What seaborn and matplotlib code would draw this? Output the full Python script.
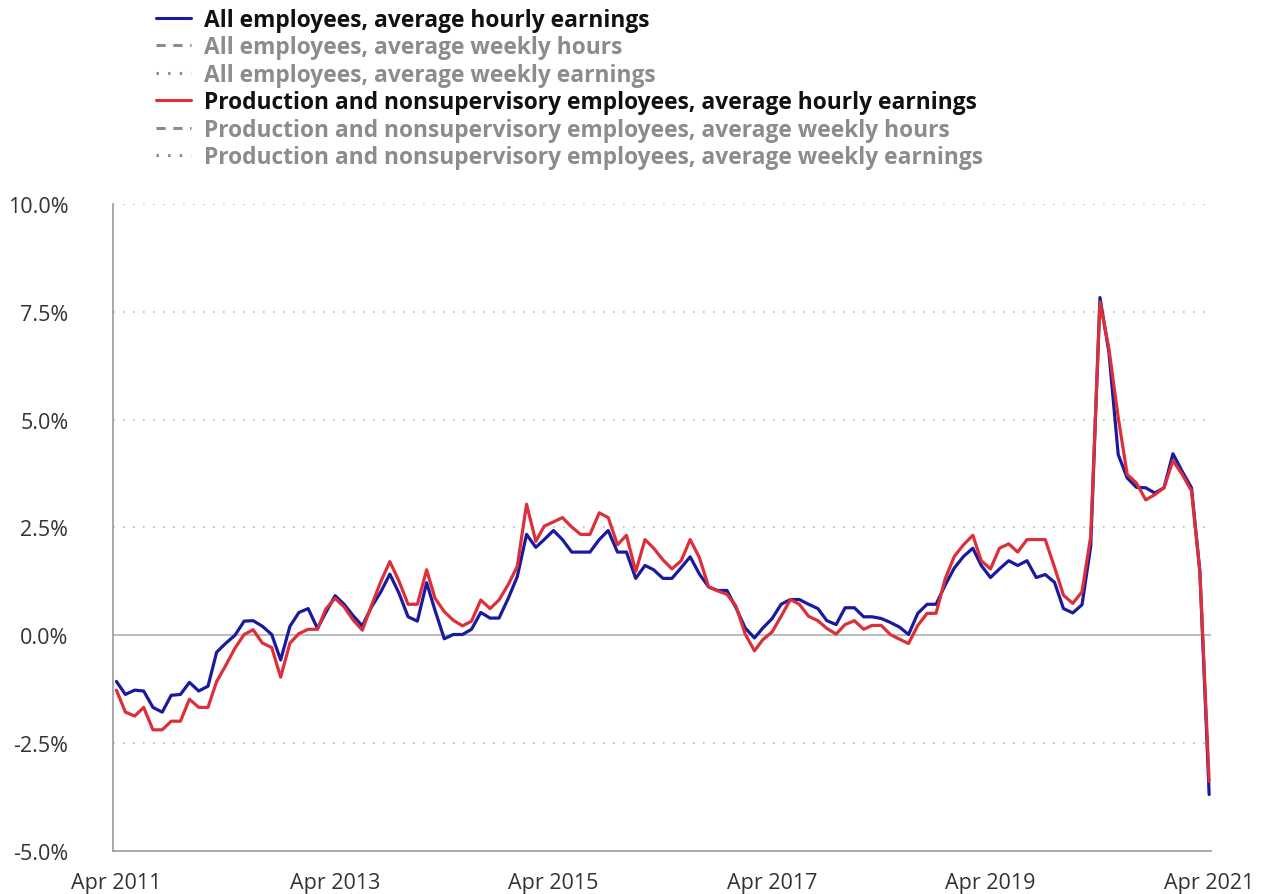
import numpy as np
import pandas as pd
import matplotlib
matplotlib.use("Agg")
import matplotlib.pyplot as plt
import matplotlib.dates as mdates
from matplotlib.lines import Line2D
from matplotlib.ticker import FuncFormatter
import seaborn as sns

# =========================
# DATA (12-month % change, monthly Apr 2011 - Apr 2021)
# =========================

START = "2011-04-01"

all_hourly = [
    -1.07, -1.37, -1.27, -1.29, -1.67, -1.78, -1.39, -1.37, -1.09, -1.29,
    -1.18, -0.39, -0.18, 0.00, 0.33, 0.34, 0.21, 0.02, -0.57, 0.21,
    0.53, 0.62, 0.16, 0.53, 0.92, 0.72, 0.45, 0.22, 0.66, 1.01,
    1.42, 0.97, 0.43, 0.33, 1.22, 0.58, -0.08, 0.02, 0.02, 0.14,
    0.53, 0.40, 0.40, 0.86, 1.36, 2.34, 2.04, 2.22, 2.43, 2.22,
    1.93, 1.93, 1.93, 2.22, 2.43, 1.93, 1.93, 1.32, 1.62, 1.52,
    1.32, 1.32, 1.57, 1.82, 1.42, 1.12, 1.04, 1.04, 0.64, 0.17,
    -0.06, 0.17, 0.39, 0.72, 0.83, 0.83, 0.72, 0.62, 0.34, 0.25,
    0.64, 0.64, 0.43, 0.43, 0.39, 0.30, 0.19, 0.02, 0.51, 0.72,
    0.72, 1.17, 1.56, 1.83, 2.02, 1.62, 1.34, 1.54, 1.73, 1.62,
    1.73, 1.34, 1.41, 1.23, 0.62, 0.52, 0.71, 2.06, 7.83, 6.56,
    4.19, 3.65, 3.43, 3.42, 3.30, 3.42, 4.21, 3.80, 3.42, 1.48,
    -3.69,
]

prod_hourly = [
    -1.27, -1.78, -1.87, -1.67, -2.19, -2.19, -1.99, -1.99, -1.48, -1.67,
    -1.67, -1.07, -0.69, -0.30, 0.02, 0.13, -0.18, -0.28, -0.97, -0.18,
    0.04, 0.14, 0.14, 0.61, 0.86, 0.66, 0.35, 0.12, 0.70, 1.25,
    1.71, 1.25, 0.72, 0.72, 1.52, 0.86, 0.55, 0.35, 0.22, 0.33,
    0.82, 0.62, 0.82, 1.18, 1.60, 3.04, 2.18, 2.53, 2.63, 2.73,
    2.51, 2.34, 2.34, 2.84, 2.73, 2.10, 2.32, 1.48, 2.22, 2.02,
    1.75, 1.54, 1.73, 2.22, 1.80, 1.12, 1.03, 0.95, 0.68, 0.03,
    -0.36, -0.10, 0.08, 0.44, 0.83, 0.72, 0.44, 0.34, 0.16, 0.03,
    0.25, 0.34, 0.14, 0.23, 0.23, 0.02, -0.09, -0.19, 0.23, 0.51,
    0.51, 1.32, 1.83, 2.10, 2.32, 1.73, 1.54, 2.02, 2.12, 1.93,
    2.22, 2.22, 2.22, 1.58, 0.93, 0.74, 1.01, 2.29, 7.73, 6.64,
    5.05, 3.73, 3.53, 3.14, 3.26, 3.42, 4.05, 3.73, 3.35, 1.48,
    -3.38,
]

legend_labels = [
    "All employees, average hourly earnings",
    "All employees, average weekly hours",
    "All employees, average weekly earnings",
    "Production and nonsupervisory employees, average hourly earnings",
    "Production and nonsupervisory employees, average weekly hours",
    "Production and nonsupervisory employees, average weekly earnings",
]
legend_active = [True, False, False, True, False, False]

y_ticks = [-5.0, -2.5, 0.0, 2.5, 5.0, 7.5, 10.0]
x_tick_years = [2011, 2013, 2015, 2017, 2019, 2021]

BLUE = "#1a1a9e"
RED = "#dc2f3a"
INACTIVE = "#8c8c8c"

# =========================
# PLOT
# =========================

dates = pd.date_range(START, periods=len(all_hourly), freq="MS")
df = pd.DataFrame({
    "date": np.concatenate([dates, dates]),
    "value": all_hourly + prod_hourly,
    "series": [legend_labels[0]] * len(dates) + [legend_labels[3]] * len(dates),
})

sns.set_style("white")
plt.rcParams["font.family"] = ["Open Sans", "DejaVu Sans"]

fig = plt.figure(figsize=(12.68, 8.95), dpi=100)
ax = fig.add_axes([0.089, 0.048, 0.866, 0.723])

sns.lineplot(
    data=df, x="date", y="value", hue="series",
    palette={legend_labels[0]: BLUE, legend_labels[3]: RED},
    linewidth=2.3, ax=ax, legend=False,
)

ax.set_ylim(-5, 10)
ax.set_xlim(dates[0] - pd.Timedelta(days=12), dates[-1] + pd.Timedelta(days=6))
ax.set_yticks(y_ticks)
ax.yaxis.set_major_formatter(FuncFormatter(lambda v, _: f"{v:.1f}%"))
ax.set_xticks([pd.Timestamp(f"{y}-04-01") for y in x_tick_years])
ax.xaxis.set_major_formatter(mdates.DateFormatter("%b %Y"))
ax.set_xlabel("")
ax.set_ylabel("")

for v in y_ticks:
    if v == 0:
        ax.axhline(0, color="#b0b0b0", lw=1.2, zorder=0)
    elif v != -5.0:
        ax.axhline(v, color="#b8b8b8", lw=1.2, ls=(0, (1, 5)), zorder=0)

for side in ["top", "right"]:
    ax.spines[side].set_visible(False)
for side in ["left", "bottom"]:
    ax.spines[side].set_color("#9a9a9a")
    ax.spines[side].set_linewidth(1.2)

ax.tick_params(axis="y", length=0, pad=32, labelsize=15.5, labelcolor="#333333")
ax.tick_params(axis="x", length=4, color="#9a9a9a", pad=11, labelsize=15.5, labelcolor="#333333")

# legend with hidden series greyed out
handles = [
    Line2D([], [], color=BLUE, lw=2.2),
    Line2D([], [], color=INACTIVE, lw=2.2, ls=(0, (3, 2.5))),
    Line2D([], [], color=INACTIVE, lw=2.2, ls=(0, (0.8, 3))),
    Line2D([], [], color=RED, lw=2.2),
    Line2D([], [], color=INACTIVE, lw=2.2, ls=(0, (3, 2.5))),
    Line2D([], [], color=INACTIVE, lw=2.2, ls=(0, (0.8, 3))),
]
leg = fig.legend(
    handles, legend_labels, loc="upper left", bbox_to_anchor=(0.1067, 1.013),
    frameon=False, handlelength=1.55, handletextpad=0.57, labelspacing=0.15,
    prop={"family": "Open Sans", "weight": "bold", "size": 16.4},
)
for txt, active in zip(leg.get_texts(), legend_active):
    txt.set_color("#111111" if active else "#8c8c8c")

plt.savefig("out.png", dpi=100)
